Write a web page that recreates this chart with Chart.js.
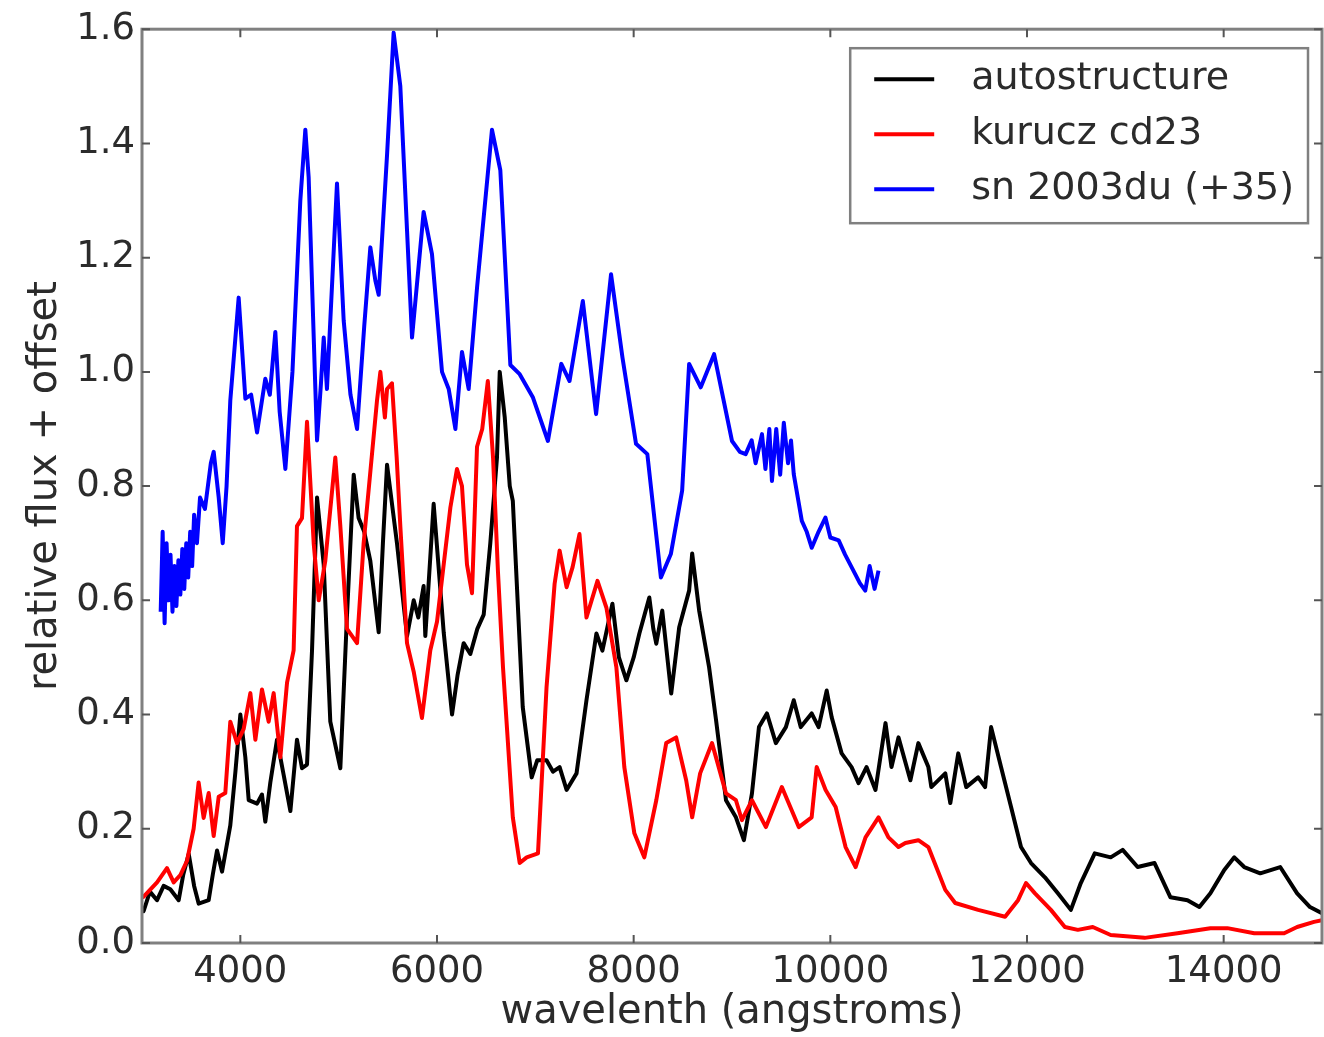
<!DOCTYPE html>
<html>
<head>
<meta charset="utf-8">
<script src="https://cdn.jsdelivr.net/npm/chart.js@4.4.1/dist/chart.umd.min.js"></script>
<style>
  html, body { margin: 0; padding: 0; background: #fff; }
  #wrap { width: 1324px; height: 1037px; }
</style>
</head>
<body>
<div id="wrap"><canvas id="chart" width="1324" height="1037"></canvas></div>
<script>
// tick positions
const xTicks = [4000, 6000, 8000, 10000, 12000, 14000];
const yTicks = [0.0, 0.2, 0.4, 0.6, 0.8, 1.0, 1.2, 1.4, 1.6];

// autostructure (black)
const autoWave = [3000, 3017, 3080, 3153, 3220, 3288, 3373, 3420, 3475, 3530, 3576, 3678, 3720, 3763, 3814, 3898, 3950, 4000, 4051, 4085,
    4170, 4220, 4254, 4305, 4373, 4441, 4509, 4576, 4627, 4678, 4729, 4780, 4848, 4915, 5017, 5085, 5153, 5203, 5260, 5322,
    5407, 5450, 5492, 5593, 5695, 5763, 5810, 5864, 5881, 5966, 6068, 6153, 6210, 6271, 6339, 6410, 6475, 6542, 6610, 6638,
    6689, 6740, 6771, 6872, 6963, 7020, 7114, 7180, 7247, 7318, 7419, 7520, 7621, 7682, 7784, 7850, 7926, 8000, 8058, 8159,
    8200, 8230, 8291, 8382, 8463, 8564, 8595, 8666, 8767, 8838, 8939, 9040, 9121, 9203, 9274, 9355, 9446, 9548, 9628, 9699,
    9810, 9881, 9963, 10014, 10115, 10216, 10287, 10368, 10459, 10561, 10622, 10693, 10814, 10895, 10997, 11027, 11169, 11220, 11301, 11382,
    11503, 11574, 11635, 11736, 11838, 11939, 12041, 12182, 12314, 12446, 12547, 12689, 12851, 12973, 13125, 13297, 13459, 13632, 13753, 13865,
    14006, 14108, 14209, 14372, 14575, 14747, 14878, 15000];
const autoFlux = [0.06, 0.056, 0.09, 0.075, 0.10, 0.094, 0.075, 0.12, 0.156, 0.10, 0.069, 0.075, 0.12, 0.162, 0.125, 0.206, 0.30, 0.40, 0.325, 0.25,
    0.244, 0.26, 0.2125, 0.281, 0.356, 0.294, 0.231, 0.356, 0.306, 0.3125, 0.5125, 0.78, 0.6625, 0.3875, 0.306, 0.575, 0.82, 0.744, 0.72, 0.669,
    0.544, 0.70, 0.8375, 0.70, 0.5375, 0.60, 0.57, 0.625, 0.5375, 0.769, 0.544, 0.40, 0.47, 0.525, 0.506, 0.55, 0.575, 0.70, 0.85, 1.0,
    0.92, 0.80, 0.774, 0.413, 0.29, 0.32, 0.32, 0.30, 0.308, 0.268, 0.297, 0.425, 0.542, 0.512, 0.594, 0.50, 0.46, 0.50, 0.542, 0.605,
    0.55, 0.524, 0.582, 0.437, 0.553, 0.617, 0.682, 0.582, 0.483, 0.39, 0.25, 0.22, 0.18, 0.262, 0.378, 0.402, 0.35, 0.378, 0.425, 0.378,
    0.402, 0.378, 0.442, 0.395, 0.332, 0.308, 0.28, 0.308, 0.268, 0.385, 0.308, 0.36, 0.285, 0.35, 0.308, 0.273, 0.297, 0.245, 0.332, 0.273,
    0.29, 0.273, 0.378, 0.308, 0.238, 0.168, 0.14, 0.115, 0.087, 0.058, 0.105, 0.157, 0.15, 0.163, 0.133, 0.14, 0.08, 0.075, 0.063, 0.087,
    0.128, 0.15, 0.133, 0.122, 0.133, 0.087, 0.063, 0.052];

// kurucz cd23 (red)
const kuruczWave = [3000, 3017, 3153, 3254, 3322, 3390, 3458, 3525, 3576, 3627, 3678, 3729, 3780, 3847, 3898, 3966, 4034, 4102, 4153, 4220,
    4288, 4339, 4407, 4475, 4542, 4576, 4627, 4678, 4746, 4797, 4864, 4966, 5017, 5085, 5187, 5254, 5322, 5390, 5424, 5470,
    5492, 5542, 5590, 5627, 5695, 5763, 5847, 5932, 6000, 6085, 6136, 6203, 6254, 6305, 6356, 6407, 6460, 6517, 6570, 6620,
    6671, 6771, 6841, 6912, 7027, 7114, 7196, 7247, 7318, 7379, 7449, 7520, 7632, 7723, 7824, 7905, 8007, 8108, 8230, 8331,
    8432, 8534, 8595, 8676, 8797, 8939, 9040, 9101, 9203, 9345, 9507, 9679, 9810, 9861, 9952, 10054, 10155, 10257, 10358, 10490,
    10591, 10693, 10763, 10895, 10997, 11169, 11270, 11503, 11777, 11909, 11990, 12081, 12243, 12385, 12517, 12669, 12851, 13196, 13530, 13865,
    14037, 14311, 14615, 14747, 14919, 15000];
const kuruczFlux = [0.08, 0.081, 0.106, 0.131, 0.106, 0.119, 0.144, 0.20, 0.281, 0.219, 0.2625, 0.1875, 0.256, 0.2625, 0.3875, 0.35, 0.375, 0.4375, 0.356, 0.444,
    0.3875, 0.4375, 0.325, 0.456, 0.5125, 0.73, 0.744, 0.9125, 0.70, 0.60, 0.669, 0.85, 0.73, 0.55, 0.525, 0.70, 0.825, 0.95, 1.0, 0.92,
    0.97, 0.98, 0.85, 0.73, 0.525, 0.475, 0.394, 0.5125, 0.5625, 0.6875, 0.7625, 0.83, 0.80, 0.6625, 0.6125, 0.869, 0.90, 0.984, 0.85, 0.65,
    0.483, 0.22, 0.14, 0.15, 0.157, 0.448, 0.629, 0.687, 0.623, 0.658, 0.716, 0.57, 0.634, 0.587, 0.483, 0.308, 0.192, 0.15, 0.25, 0.35,
    0.36, 0.285, 0.22, 0.297, 0.35, 0.262, 0.25, 0.215, 0.25, 0.203, 0.273, 0.203, 0.22, 0.308, 0.268, 0.238, 0.168, 0.133, 0.185, 0.22,
    0.185, 0.168, 0.175, 0.18, 0.168, 0.093, 0.07, 0.058, 0.046, 0.075, 0.105, 0.087, 0.058, 0.028, 0.023, 0.028, 0.014, 0.009, 0.017, 0.026,
    0.026, 0.017, 0.017, 0.028, 0.037, 0.04];

// sn 2003du (+35) (blue)
const snWave = [3190, 3210, 3230, 3250, 3270, 3290, 3310, 3330, 3350, 3370, 3390, 3410, 3430, 3450, 3470, 3490, 3510, 3530, 3559, 3590,
    3640, 3700, 3729, 3780, 3821, 3860, 3898, 3983, 4051, 4110, 4170, 4254, 4300, 4356, 4400, 4458, 4530, 4610, 4661, 4695,
    4763, 4780, 4820, 4848, 4881, 4983, 5051, 5120, 5187, 5260, 5322, 5373, 5407, 5492, 5559, 5627, 5746, 5864, 5949, 6051,
    6119, 6187, 6254, 6322, 6407, 6559, 6644, 6746, 6841, 6976, 7128, 7264, 7348, 7483, 7618, 7770, 7886, 8024, 8139, 8277,
    8378, 8493, 8564, 8682, 8818, 9000, 9080, 9139, 9200, 9240, 9305, 9340, 9380, 9406, 9450, 9490, 9527, 9570, 9600, 9628,
    9710, 9760, 9811, 9880, 9950, 10000, 10085, 10150, 10253, 10300, 10355, 10400, 10450, 10490];
const snFlux = [0.58, 0.72, 0.56, 0.70, 0.60, 0.68, 0.58, 0.66, 0.59, 0.67, 0.61, 0.69, 0.62, 0.70, 0.64, 0.72, 0.66, 0.75, 0.70, 0.78,
    0.76, 0.84, 0.86, 0.78, 0.70, 0.80, 0.95, 1.13, 0.953, 0.96, 0.894, 0.988, 0.96, 1.07, 0.93, 0.83, 1.0, 1.30, 1.424, 1.34,
    0.97, 0.88, 0.98, 1.06, 0.97, 1.33, 1.09, 0.96, 0.90, 1.08, 1.218, 1.16, 1.135, 1.38, 1.594, 1.50, 1.06, 1.28, 1.206, 1.0,
    0.97, 0.90, 1.035, 0.97, 1.147, 1.424, 1.353, 1.012, 0.996, 0.955, 0.879, 1.014, 0.984, 1.124, 0.926, 1.171, 1.025, 0.874, 0.856, 0.640,
    0.681, 0.792, 1.014, 0.973, 1.031, 0.879, 0.86, 0.856, 0.88, 0.84, 0.891, 0.83, 0.90, 0.809, 0.90, 0.82, 0.911, 0.84, 0.88, 0.821,
    0.739, 0.72, 0.692, 0.72, 0.745, 0.71, 0.705, 0.68, 0.646, 0.63, 0.617, 0.66, 0.62, 0.652];

function toPoints(xs, ys) {
    return xs.map((x, i) => ({ x: x, y: ys[i] }));
}

const FONT = "'DejaVu Sans', 'Liberation Sans', sans-serif";
const TEXT = '#2b2b2b';
const FRAME = '#808080';

// box + inward ticks on all four sides, like matplotlib
const framePlugin = {
    id: 'frame',
    afterDatasetsDraw(chart) {
        const ctx = chart.ctx;
        const a = chart.chartArea;
        const xs = chart.scales.x, ys = chart.scales.y;
        ctx.save();
        ctx.strokeStyle = FRAME;
        ctx.lineWidth = 3;
        ctx.strokeRect(a.left, a.top, a.right - a.left, a.bottom - a.top);
        ctx.lineWidth = 2;
        ctx.strokeStyle = '#555';
        const len = 8;
        ctx.beginPath();
        for (const t of xTicks) {
            const px = xs.getPixelForValue(t);
            ctx.moveTo(px, a.bottom); ctx.lineTo(px, a.bottom - len);
            ctx.moveTo(px, a.top); ctx.lineTo(px, a.top + len);
        }
        for (const t of yTicks) {
            const py = ys.getPixelForValue(t);
            ctx.moveTo(a.left, py); ctx.lineTo(a.left + len, py);
            ctx.moveTo(a.right, py); ctx.lineTo(a.right - len, py);
        }
        ctx.stroke();
        ctx.restore();
    },
    afterDraw(chart) {
        // legend box in upper right
        const ctx = chart.ctx;
        const a = chart.chartArea;
        const sets = chart.data.datasets;
        ctx.save();
        ctx.font = '38px ' + FONT;
        let maxW = 0;
        for (const ds of sets) maxW = Math.max(maxW, ctx.measureText(ds.label).width);
        const rowH = 55;
        const boxW = 121 + maxW + 14;
        const boxH = rowH * sets.length + 10;
        const right = a.right - 14;
        const left = right - boxW;
        const top = a.top + 19;
        ctx.fillStyle = '#fff';
        ctx.fillRect(left, top, boxW, boxH);
        ctx.strokeStyle = FRAME;
        ctx.lineWidth = 2.5;
        ctx.strokeRect(left, top, boxW, boxH);
        sets.forEach((ds, i) => {
            const cy = top + 31 + i * rowH;
            ctx.strokeStyle = ds.borderColor;
            ctx.lineWidth = 4;
            ctx.beginPath();
            ctx.moveTo(left + 24, cy);
            ctx.lineTo(left + 84, cy);
            ctx.stroke();
            ctx.fillStyle = TEXT;
            ctx.textBaseline = 'middle';
            ctx.fillText(ds.label, left + 121, cy);
        });
        ctx.restore();
    }
};

new Chart(document.getElementById('chart'), {
    type: 'line',
    data: {
        datasets: [
            { label: 'autostructure', data: toPoints(autoWave, autoFlux), borderColor: '#000000', order: 3 },
            { label: 'kurucz cd23', data: toPoints(kuruczWave, kuruczFlux), borderColor: '#ff0000', order: 2 },
            { label: 'sn 2003du (+35)', data: toPoints(snWave, snFlux), borderColor: '#0000ff', order: 1 }
        ]
    },
    options: {
        responsive: false,
        animation: false,
        clip: true,
        elements: {
            line: { borderWidth: 4, tension: 0, fill: false, borderJoinStyle: 'round' },
            point: { radius: 0 }
        },
        layout: { padding: { left: 0, top: 28, right: 2, bottom: 0 } },
        plugins: {
            legend: { display: false },
            tooltip: { enabled: false }
        },
        scales: {
            x: {
                type: 'linear',
                min: 3000,
                max: 15000,
                afterBuildTicks: s => { s.ticks = xTicks.map(v => ({ value: v })); },
                afterFit: s => { s.height = 94; },
                grid: { display: false, drawTicks: false },
                border: { display: false },
                ticks: { color: TEXT, font: { family: FONT, size: 37 }, padding: 7, maxRotation: 0, callback: v => String(v) },
                title: { display: true, text: 'wavelenth (angstroms)', color: TEXT, font: { family: FONT, size: 40 }, padding: { top: 0, bottom: 0 } }
            },
            y: {
                type: 'linear',
                min: 0,
                max: 1.6,
                afterBuildTicks: s => { s.ticks = yTicks.map(v => ({ value: v })); },
                afterFit: s => { s.width = 142; },
                grid: { display: false, drawTicks: false },
                border: { display: false },
                ticks: { color: TEXT, font: { family: FONT, size: 37 }, padding: 7, callback: v => Number(v).toFixed(1) },
                title: { display: true, text: 'relative flux + offset', color: TEXT, font: { family: FONT, size: 40 }, padding: { top: 22, bottom: 0 } }
            }
        }
    },
    plugins: [framePlugin]
});
</script>
</body>
</html>
